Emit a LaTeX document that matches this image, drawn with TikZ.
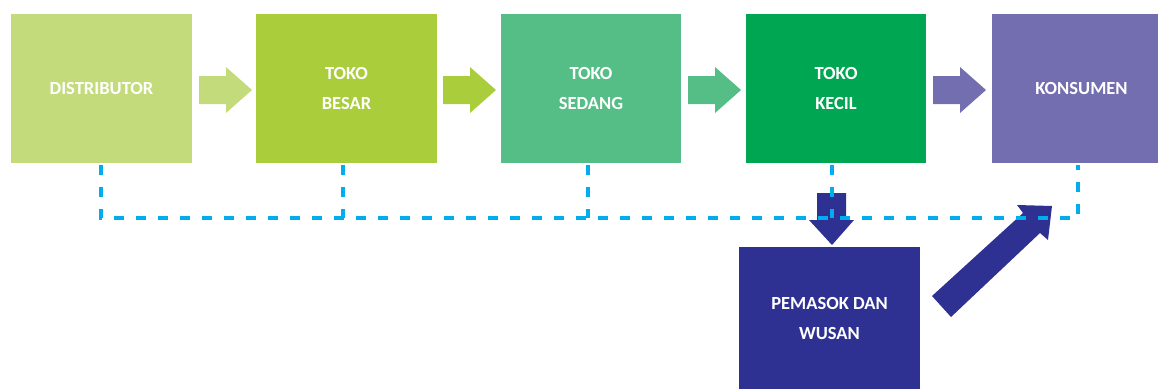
\documentclass[tikz,border=0pt]{standalone}
\usepackage{fontspec}
\setmainfont{Carlito}
\definecolor{cDist}{HTML}{C4DB7B}
\definecolor{cBesar}{HTML}{A9CD3B}
\definecolor{cSedang}{HTML}{55BE86}
\definecolor{cKecil}{HTML}{00A651}
\definecolor{cKons}{HTML}{736EAF}
\definecolor{cPemasok}{HTML}{2E3192}
\definecolor{cDash}{HTML}{00AEEF}
\begin{document}
\begin{tikzpicture}[x=1bp,y=-1bp,
  box/.style={inner sep=0pt, outer sep=0pt, text=white, align=center,
    font=\fontsize{18.5bp}{30bp}\selectfont\bfseries},
  dashline/.style={draw=cDash, line width=3.5bp, dash pattern=on 10bp off 12bp},
  harrow/.pic={\fill (0,-14) -- (27,-14) -- (27,-23) -- (53,0) -- (27,23) -- (27,14) -- (0,14) -- cycle;}
]
\useasboundingbox (0,0) rectangle (1158,389);

% supply chain boxes
\node[box, fill=cDist,  minimum width=181bp, minimum height=149bp] (dist)   at (101.5,88.5) {DISTRIBUTOR};
\node[box, fill=cBesar, minimum width=181bp, minimum height=149bp] (besar)  at (346.5,88.5) {TOKO\\BESAR};
\node[box, fill=cSedang,minimum width=180bp, minimum height=149bp] (sedang) at (591,88.5) {TOKO\\SEDANG};
\node[box, fill=cKecil, minimum width=180bp, minimum height=149bp] (kecil)  at (836,88.5) {TOKO\\KECIL};
\node[box, fill=cKons,  minimum width=166bp, minimum height=149bp] (kons)   at (1075,88.5) {\hspace*{13bp}KONSUMEN};
\node[box, fill=cPemasok, minimum width=181bp, minimum height=142bp] (pemasok) at (829.5,318) {PEMASOK DAN\\WUSAN};

% block arrows between the stages
\pic[fill=cDist]  at (199,90) {harrow};
\pic[fill=cBesar] at (443,90) {harrow};
\pic[fill=cSedang] at (688,90) {harrow};
\pic[fill=cKons]  at (933,90) {harrow};

% arrow down into the supplier box
\fill[cPemasok] (817,193) -- (846,193) -- (846,220) -- (854,220) -- (832,245)
  -- (809,220) -- (817,220) -- cycle;

% arrow from the supplier box up to the consumer
\fill[cPemasok] (932,296) -- (1023,213) -- (1017,205) -- (1052,206) -- (1048,240)
  -- (1040,233) -- (951,317) -- cycle;

% dashed links
\coordinate (base1) at (101,218);
\coordinate (base5) at (1078,218);
\draw[dashline] (101,165) -- (base1) -- (base5) -- (1078,165);
\draw[dashline] (343,165) -- (343,218);
\draw[dashline] (588,165) -- (588,218);
\draw[dashline] (832,165) -- (832,218);
\end{tikzpicture}
\end{document}
